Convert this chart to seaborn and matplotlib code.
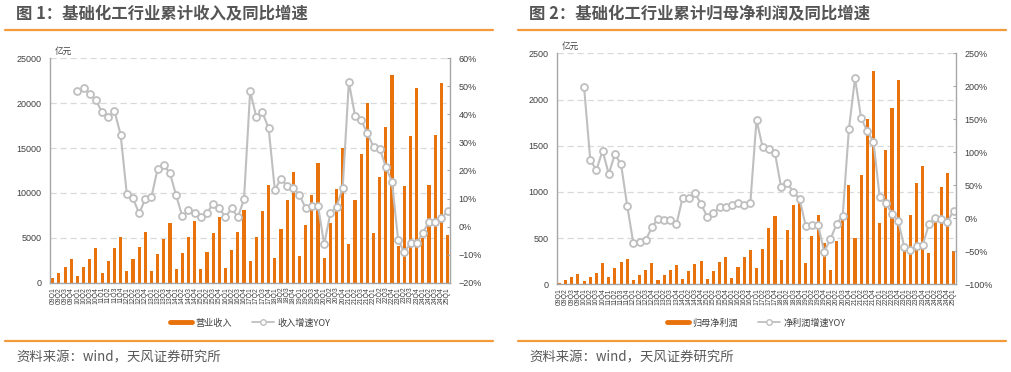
import numpy as np
import pandas as pd
import matplotlib
matplotlib.use("Agg")
import matplotlib.pyplot as plt
import seaborn as sns
from matplotlib.lines import Line2D
from matplotlib.ticker import FuncFormatter, MultipleLocator

# ---------------- data ----------------
quarters = [f"{y:02d}Q{q}" for y in range(9, 26) for q in range(1, 5)][:65]

revenue = [520, 1110, 1780, 2600, 740, 1710, 2670, 3820, 1110, 2410, 3820, 5050,
           1260, 2600, 3930, 5600, 1340, 3190, 4860, 6640, 1480, 3300, 5080, 6860,
           1560, 3410, 5530, 7350, 1630, 3640, 5680, 8090, 2410, 5080, 8010, 10870,
           2710, 5970, 9160, 12350, 2970, 6380, 9760, 13280, 2750, 6640, 10430, 14990,
           4270, 9200, 14320, 20070, 5490, 11760, 17330, 23110, 4120, 10720, 16290, 21700,
           5010, 10870, 16510, 22220, 5310]

# YoY starts at 10Q1
revenue_yoy = [48.2, 49.5, 47.3, 45.0, 40.7, 39.1, 41.2, 32.8, 11.7, 10.1, 4.7, 9.8,
               10.6, 20.6, 22.0, 19.0, 11.1, 3.7, 5.8, 4.7, 3.5, 4.8, 8.2, 6.6,
               3.3, 6.6, 3.3, 9.7, 48.2, 39.1, 40.7, 35.0, 13.1, 17.1, 14.4, 13.7,
               11.2, 6.6, 7.2, 7.5, -6.3, 4.7, 7.1, 13.7, 51.5, 39.6, 37.9, 33.3,
               28.4, 27.8, 21.3, 15.8, -4.9, -9.1, -5.9, -5.9, -2.2, 1.7, 1.6, 2.9, 5.6]

profit = [15, 47, 76, 112, 40, 79, 126, 235, 76, 173, 242, 274,
          47, 105, 155, 235, 47, 101, 155, 206, 54, 144, 217, 253,
          58, 148, 245, 296, 69, 188, 296, 372, 177, 383, 610, 736,
          267, 588, 856, 884, 231, 523, 750, 452, 159, 466, 704, 1079,
          498, 1184, 1787, 2310, 661, 1458, 1906, 2213, 361, 747, 1094, 1282,
          336, 690, 1058, 1209, 365]

profit_yoy = [198.5, 88.4, 73.2, 102.5, 67.2, 97.0, 81.8, 19.2, -37.9, -36.4, -33.3, -13.6,
              -0.5, -2.5, -2.0, -9.1, 31.3, 31.3, 37.9, 21.7, 2.0, 8.1, 16.7, 17.2,
              20.7, 23.7, 19.7, 23.7, 149.0, 107.6, 105.6, 98.5, 47.0, 53.5, 39.4, 29.3,
              -11.6, -10.1, -10.6, -50.5, -31.8, -9.1, 4.0, 134.8, 212.1, 151.5, 131.8, 115.7,
              32.8, 23.2, 7.1, -3.5, -43.4, -48.0, -42.4, -40.4, -9.1, 0.0, -1.5, -5.6, 11.6]

titles = ["图 1：基础化工行业累计收入及同比增速", "图 2：基础化工行业累计归母净利润及同比增速"]
bar_names = ["营业收入", "归母净利润"]
line_names = ["收入增速YOY", "净利润增速YOY"]
source = "资料来源：wind，天风证券研究所"

# ---------------- style ----------------
sns.set_style("white")
plt.rcParams["font.family"] = ["Noto Sans CJK SC", "DejaVu Sans"]
plt.rcParams["axes.unicode_minus"] = True
NUMFONT = ["Liberation Sans", "DejaVu Sans"]

BAR = "#E8720C"
LINE = "#BFBFBF"
ORANGE_RULE = "#F39A3A"
TXT = "#404040"
GRID = "#D9D9D9"
SPINE = "#A6A6A6"

W, H = 1011, 372
fig = plt.figure(figsize=(W / 100, H / 100), dpi=100)


def fx(px):
    return px / W


def fy(py):
    return 1 - py / H


panels = [
    dict(rect=(50, 58.3, 450, 282.7), bars=revenue, yoy=revenue_yoy,
         ylim=(0, 25000), ystep=5000, y2lim=(-20, 60), y2step=10,
         title_x=16, rule=(5, 493)),
    dict(rect=(556.7, 53.3, 956, 284.3), bars=profit, yoy=profit_yoy,
         ylim=(0, 2500), ystep=500, y2lim=(-100, 250), y2step=50,
         title_x=529, rule=(518, 1006)),
]

n = len(quarters)
for k, p in enumerate(panels):
    l, t, r, b = p["rect"]
    ax = fig.add_axes([fx(l), fy(b), fx(r) - fx(l), fy(t) - fy(b)])
    df = pd.DataFrame({"q": quarters, "v": p["bars"]})
    sns.barplot(data=df, x="q", y="v", ax=ax, color=BAR, width=0.5,
                saturation=1, edgecolor="none", linewidth=0)
    ax.set_xlim(-0.45, n - 0.6)
    ax.set_ylim(*p["ylim"])
    ax.yaxis.set_major_locator(MultipleLocator(p["ystep"]))
    ax.set_axisbelow(True)
    ax.yaxis.grid(True, ls=(0, (5, 3)), color=GRID, lw=0.9)
    ax.set_xlabel("")
    ax.set_ylabel("")
    ax.set_xticks(range(n))
    ax.set_xticklabels(quarters, rotation=90, fontsize=4.9, color=TXT,
                       family=NUMFONT)
    ax.tick_params(axis="x", length=2, width=0.6, color=SPINE, pad=1)
    ax.tick_params(axis="y", length=0, labelsize=6.5, labelcolor=TXT, pad=6)
    for lab in ax.get_yticklabels():
        lab.set_family(NUMFONT)
    for s in ["top", "right"]:
        ax.spines[s].set_visible(False)
    for s in ["left", "bottom"]:
        ax.spines[s].set_color(SPINE)
        ax.spines[s].set_linewidth(1.0)
    ax.text(0.012, 1.012, "亿元", transform=ax.transAxes, fontsize=6.2,
            color=TXT, ha="left", va="bottom")

    ax2 = ax.twinx()
    x_line = np.arange(n - len(p["yoy"]), n)
    sns.lineplot(x=x_line, y=p["yoy"], ax=ax2, color=LINE, lw=1.5,
                 marker="o", markersize=5, markerfacecolor="white",
                 markeredgecolor=LINE, markeredgewidth=1.3)
    ax2.set_ylim(*p["y2lim"])
    ax2.yaxis.set_major_locator(MultipleLocator(p["y2step"]))
    ax2.yaxis.set_major_formatter(FuncFormatter(
        lambda v, pos: (f"{v:.0f}%").replace("-", "\u2212")))
    ax2.tick_params(axis="y", direction="in", length=2.5, width=0.8, color=SPINE,
                    labelsize=6.5, labelcolor=TXT, pad=6)
    fig.canvas.draw()
    for lab in ax2.get_yticklabels():
        lab.set_family(NUMFONT)
    ax2.set_ylabel("")
    for s in ["top", "left", "bottom"]:
        ax2.spines[s].set_visible(False)
    ax2.spines["right"].set_color(SPINE)
    ax2.spines["right"].set_linewidth(1.0)
    ax2.set_xlim(ax.get_xlim())

    handles = [Line2D([0], [0], color=BAR, lw=3.5),
               Line2D([0], [0], color=LINE, lw=1.3, marker="o", markersize=4,
                      markerfacecolor="white", markeredgecolor=LINE,
                      markeredgewidth=1.0)]
    leg_y = (b - 323) / (b - t)
    ax.legend(handles, [bar_names[k], line_names[k]], loc="center",
              bbox_to_anchor=(0.5, leg_y), ncol=2, frameon=False,
              fontsize=6.6, handlelength=2.4, columnspacing=2.2,
              handletextpad=0.4, labelcolor=TXT)

    # title, rules, source
    fig.text(fx(p["title_x"]), fy(14), titles[k], fontsize=11.8,
             fontweight="bold", color="#555555", ha="left", va="center")
    r0, r1 = p["rule"]
    fig.add_artist(Line2D([fx(r0), fx(r1)], [fy(30), fy(30)],
                          color=ORANGE_RULE, lw=1.6))
    fig.add_artist(Line2D([fx(r0), fx(r1)], [fy(341), fy(341)],
                          color=ORANGE_RULE, lw=1.6))
    fig.text(fx(p["title_x"]), fy(357.5), source, fontsize=9.6,
             color="#595959", ha="left", va="center")

fig.savefig("out.png", dpi=100)
